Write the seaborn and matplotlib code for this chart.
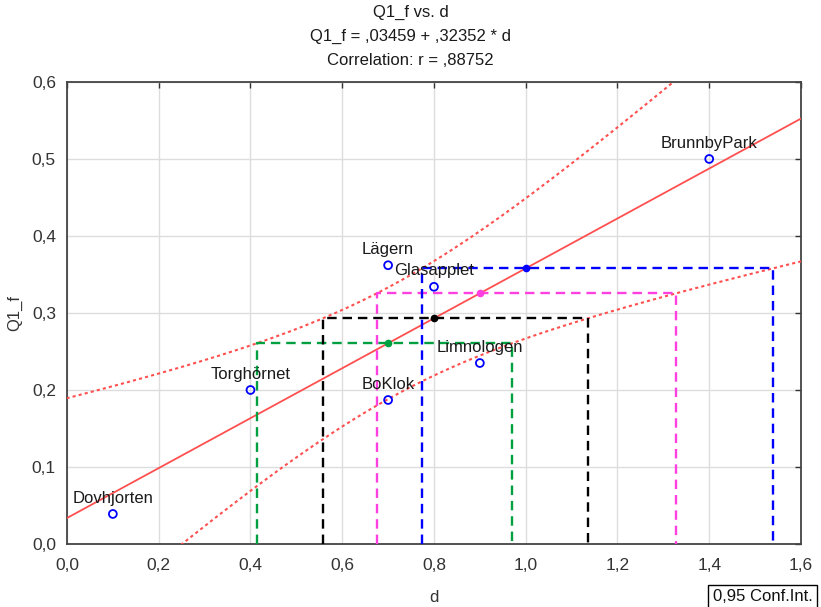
import numpy as np
import pandas as pd
import seaborn as sns
import matplotlib.pyplot as plt
from matplotlib.ticker import FuncFormatter

# points
names = ['Dovhjorten', 'Torghörnet', 'BoKlok', 'Lägern', 'Glasapplet', 'Limnologen', 'BrunnbyPark']
d_vals = [0.10, 0.40, 0.70, 0.70, 0.80, 0.90, 1.40]
q1f_vals = [0.039, 0.200, 0.187, 0.362, 0.334, 0.235, 0.500]

# d levels where the inverse-prediction boxes are drawn
box_levels = [0.7, 0.8, 0.9, 1.0]
box_colors = ['#00a040', 'black', '#ff40e0', '#0000ff']

t_crit = 2.5706  # t(0.975, df=5)

df = pd.DataFrame({'name': names, 'd': d_vals, 'Q1_f': q1f_vals})

sns.set_theme(style="white")
plt.rcParams['font.family'] = ['Liberation Sans', 'DejaVu Sans']

x = df['d'].values
y = df['Q1_f'].values
n = len(x)
slope, icpt = np.polyfit(x, y, 1)
resid = y - (icpt + slope * x)
s = np.sqrt((resid ** 2).sum() / (n - 2))
xbar = x.mean()
sxx = ((x - xbar) ** 2).sum()

xs = np.linspace(-0.5, 2.5, 3001)
fit = icpt + slope * xs
half = t_crit * s * np.sqrt(1 / n + (xs - xbar) ** 2 / sxx)
upper = fit + half
lower = fit - half
bands = pd.DataFrame({'d': xs, 'fit': fit, 'upper': upper, 'lower': lower})

fig, ax = plt.subplots(figsize=(8.21, 6.07), dpi=100)
fig.subplots_adjust(left=0.0816, right=0.9756, bottom=0.1038, top=0.865)

ax.grid(True, color='#dddddd', lw=1.0, zorder=0)

sns.lineplot(data=bands, x='d', y='fit', color='#ff5050', lw=1.3, ax=ax, zorder=3)
sns.lineplot(data=bands, x='d', y='upper', color='#ff5050', lw=1.5,
             linestyle=(0, (1.5, 1.5)), ax=ax, zorder=3)
sns.lineplot(data=bands, x='d', y='lower', color='#ff5050', lw=1.5,
             linestyle=(0, (1.5, 1.5)), ax=ax, zorder=3)

for lvl, col in zip(box_levels, box_colors):
    y0 = icpt + slope * lvl
    xl = np.interp(y0, upper, xs)
    xr = np.interp(y0, lower, xs)
    ax.plot([xl, xl, xr, xr], [0, y0, y0, 0], color=col, lw=1.7,
            linestyle=(0, (4, 2.5)), zorder=4)
    ax.plot([lvl], [y0], 'o', color=col, ms=4.5, zorder=5)

sns.scatterplot(data=df, x='d', y='Q1_f', marker='o', s=32, facecolor='none',
                edgecolor='#0000ff', linewidth=1.3, ax=ax, zorder=6)
for _, r in df.iterrows():
    ax.annotate(r['name'], (r['d'], r['Q1_f']), xytext=(0, 6), textcoords='offset points',
                ha='center', va='bottom', fontsize=12, color='#1a1a1a', zorder=7)

ax.set_xlim(0, 1.6)
ax.set_ylim(0, 0.6)
ax.set_xticks(np.arange(0, 1.61, 0.2))
ax.set_yticks(np.arange(0, 0.61, 0.1))
comma = FuncFormatter(lambda v, p: f'{v:.1f}'.replace('.', ','))
ax.xaxis.set_major_formatter(comma)
ax.yaxis.set_major_formatter(comma)
ax.tick_params(direction='in', length=4, width=1, color='#333333', labelsize=12.5,
               labelcolor='#333333', top=True, right=True)
ax.tick_params(axis='x', pad=10)
ax.tick_params(axis='y', pad=8)
for sp in ax.spines.values():
    sp.set_color('#444444')
    sp.set_linewidth(1.3)

ax.set_xlabel('d', fontsize=12, color='#333333', labelpad=12)
ax.set_ylabel('Q1_f', fontsize=12, color='#333333', labelpad=7)

fig.text(0.5, 0.980, 'Q1_f vs. d', ha='center', va='center', fontsize=12, color='#1a1a1a')
fig.text(0.5, 0.940, 'Q1_f = ,03459 + ,32352 * d', ha='center', va='center', fontsize=12, color='#1a1a1a')
fig.text(0.5, 0.901, 'Correlation: r = ,88752', ha='center', va='center', fontsize=12, color='#1a1a1a')

fig.text(0.868, 0.0165, '0,95 Conf.Int.', ha='left', va='center', fontsize=12, color='#111111',
         bbox=dict(boxstyle='square,pad=0.25', facecolor='white', edgecolor='black', lw=1.0))

fig.savefig('out.png', dpi=100)
